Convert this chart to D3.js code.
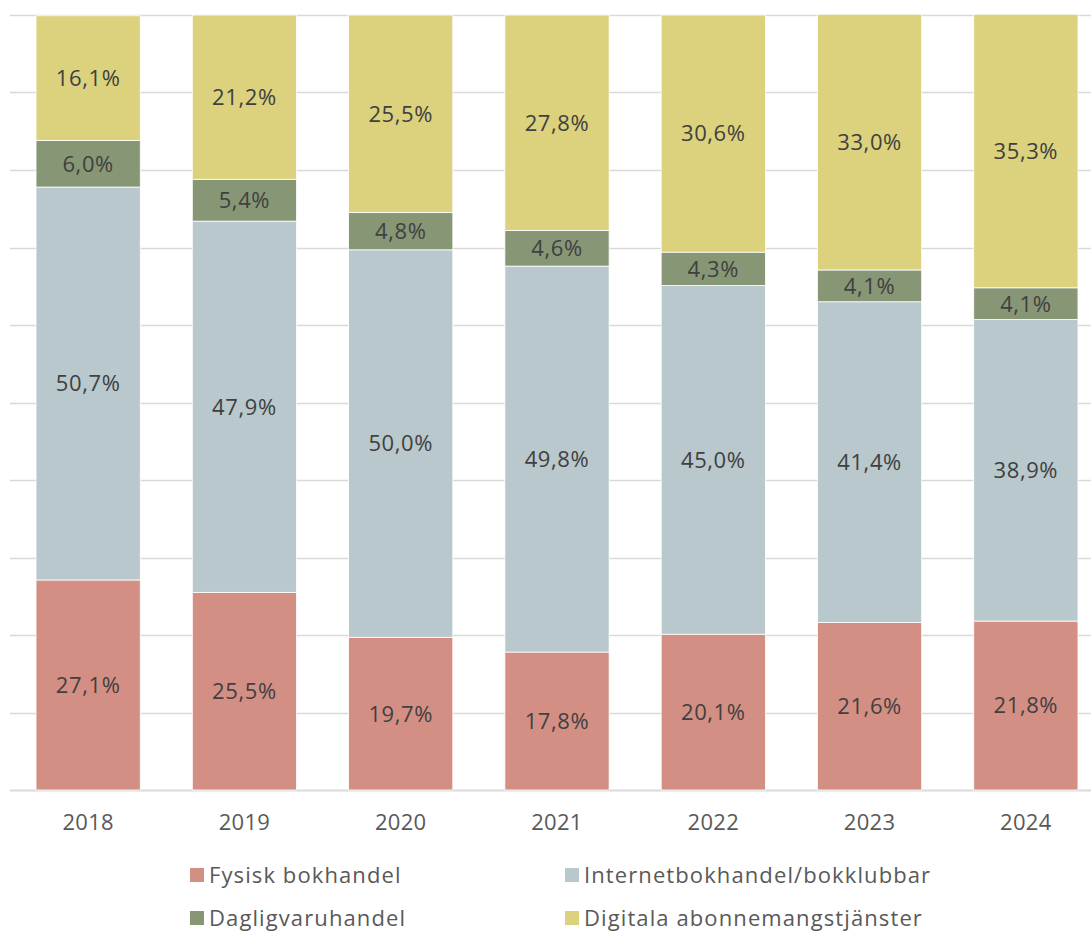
<!DOCTYPE html>
<html>
<head>
<meta charset="utf-8">
<script src="https://cdn.jsdelivr.net/npm/d3@7"></script>
<style>
    body { margin: 0; background: #fff; }
    text { font-family: "Open Sans", Lato, sans-serif; }
</style>
</head>
<body>
<div id="ground"></div>
<script>
document.addEventListener("DOMContentLoaded", function () {

    const years = ["2018", "2019", "2020", "2021", "2022", "2023", "2024"];
    const series = ["Fysisk bokhandel", "Internetbokhandel/bokklubbar", "Dagligvaruhandel", "Digitala abonnemangstjänster"];
    const fysisk = [27.1, 25.5, 19.7, 17.8, 20.1, 21.6, 21.8];
    const internet = [50.7, 47.9, 50.0, 49.8, 45.0, 41.4, 38.9];
    const daglig = [6.0, 5.4, 4.8, 4.6, 4.3, 4.1, 4.1];
    const digital = [16.1, 21.2, 25.5, 27.8, 30.6, 33.0, 35.3];
    const colors = ["#d48f85", "#b9c8cc", "#879775", "#dcd27d"];
    const yTicks = [0, 10, 20, 30, 40, 50, 60, 70, 80, 90, 100];

    const width = 1091, height = 934,
        top = 15, bottom = 790;

    let table = years.map((y, i) => ({
        year: y,
        [series[0]]: fysisk[i],
        [series[1]]: internet[i],
        [series[2]]: daglig[i],
        [series[3]]: digital[i]
    }));

    let stack = d3.stack().keys(series)(table);

    let x = d3.scaleBand()
        .domain(years)
        .range([10, 1104])
        .paddingInner(0.333)
        .paddingOuter(0.1665);

    let y = d3.scaleLinear()
        .domain([0, 100])
        .range([bottom, top]);

    let svg = d3.select("#ground")
        .append("svg")
        .attr("width", width)
        .attr("height", height);

    // grid
    svg.append("g")
        .selectAll("line")
        .data(yTicks)
        .join("line")
        .attr("x1", 10)
        .attr("x2", width)
        .attr("y1", d => Math.round(y(d)) + 0.5)
        .attr("y2", d => Math.round(y(d)) + 0.5)
        .attr("stroke", "#d9d9d9")
        .attr("stroke-width", d => d === 0 ? 2 : 1.3);

    let layers = svg.append("g")
        .selectAll("g")
        .data(stack)
        .join("g")
        .attr("fill", (d, i) => colors[i]);

    layers.selectAll("rect")
        .data(d => d)
        .join("rect")
        .attr("x", d => x(d.data.year))
        .attr("width", x.bandwidth())
        .attr("y", d => y(d[1]))
        .attr("height", d => y(d[0]) - y(d[1]))
        .attr("stroke", "#fff")
        .attr("stroke-width", 0.8);

    let fmt = v => v.toFixed(1).replace(".", ",") + "%";

    layers.selectAll("text")
        .data(d => d.map(p => ({p: p, v: p[1] - p[0]})))
        .join("text")
        .attr("x", d => x(d.p.data.year) + x.bandwidth() / 2)
        .attr("y", d => (y(d.p[0]) + y(d.p[1])) / 2)
        .attr("dy", "0.36em")
        .attr("text-anchor", "middle")
        .attr("fill", "#404040")
        .attr("font-size", 22)
        .attr("letter-spacing", 0.6)
        .text(d => fmt(d.v));

    // x axis labels
    svg.append("g")
        .selectAll("text")
        .data(years)
        .join("text")
        .attr("x", d => x(d) + x.bandwidth() / 2)
        .attr("y", 830)
        .attr("text-anchor", "middle")
        .attr("fill", "#595959")
        .attr("font-size", 22)
        .attr("letter-spacing", 0.3)
        .text(d => d);

    // legend
    let legendPos = [
        {x: 190, y: 875},
        {x: 565, y: 875},
        {x: 190, y: 918},
        {x: 565, y: 918}
    ];

    let leg = svg.append("g")
        .selectAll("g")
        .data(series)
        .join("g")
        .attr("transform", (d, i) => "translate(" + legendPos[i].x + "," + legendPos[i].y + ")");

    leg.append("rect")
        .attr("x", 0)
        .attr("y", -7)
        .attr("width", 14)
        .attr("height", 14)
        .attr("fill", (d, i) => colors[i]);

    leg.append("text")
        .attr("x", 19)
        .attr("dy", "0.36em")
        .attr("fill", "#595959")
        .attr("font-size", 22)
        .attr("letter-spacing", 1.1)
        .text(d => d);

});
</script>
</body>
</html>
